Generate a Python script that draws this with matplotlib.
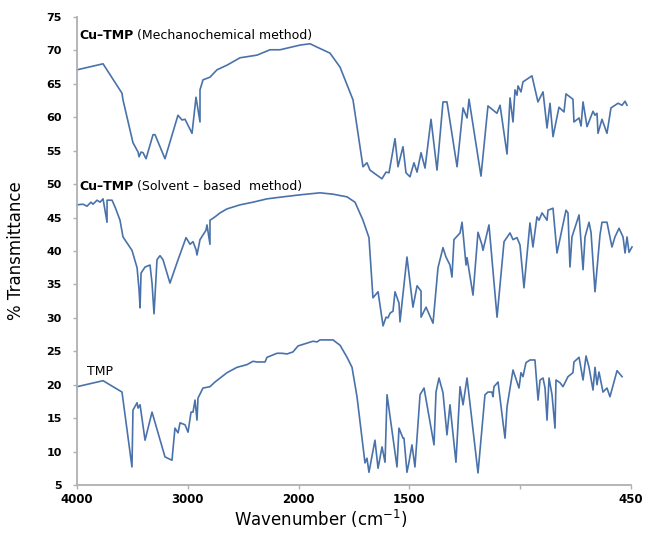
import matplotlib
matplotlib.use("Agg")
from matplotlib import pyplot as plt

# x is the position along the axis in tick steps (0 = 4000 ... 5 = 450)
tick_pos = [0, 1, 2, 3, 4, 5]
tick_labels = ["4000", "3000", "2000", "1500", "", "450"]
y_ticks = [5, 10, 15, 20, 25, 30, 35, 40, 45, 50, 55, 60, 65, 70, 75]

# Cu-TMP, mechanochemical
mech_x = [0, 0.235, 0.406, 0.415, 0.505, 0.551, 0.560, 0.578, 0.596, 0.623, 0.686, 0.704,
          0.794, 0.911, 0.948, 0.975, 1.038, 1.074, 1.110, 1.110, 1.137, 1.200, 1.263, 1.354,
          1.471, 1.625, 1.742, 1.832, 2.013, 2.103, 2.166, 2.283, 2.374, 2.491, 2.581, 2.617,
          2.644, 2.752, 2.789, 2.816, 2.870, 2.897, 2.942, 2.969, 3.005, 3.041, 3.069, 3.105,
          3.141, 3.195, 3.249, 3.303, 3.339, 3.430, 3.484, 3.520, 3.538, 3.646, 3.709, 3.790,
          3.818, 3.881, 3.908, 3.935, 3.953, 3.971, 3.980, 4.007, 4.025, 4.106, 4.160, 4.206,
          4.242, 4.269, 4.296, 4.350, 4.395, 4.413, 4.476, 4.485, 4.531, 4.549, 4.567, 4.603,
          4.657, 4.675, 4.693, 4.702, 4.738, 4.783, 4.819, 4.883, 4.919, 4.946, 4.964]
mech_y = [67.1, 68.0, 63.6, 62.6, 56.2, 54.8, 54.1, 54.8, 54.7, 53.8, 57.4, 57.4,
          53.8, 60.3, 59.6, 59.7, 57.6, 63.0, 59.3, 64.1, 65.6, 66.0, 67.1, 67.8,
          68.9, 69.3, 70.1, 70.1, 70.8, 71.0, 70.5, 69.6, 67.5, 62.6, 52.6, 53.2,
          52.1, 50.8, 51.8, 51.7, 56.8, 52.6, 55.6, 51.7, 51.1, 53.2, 51.8, 54.7,
          52.4, 59.7, 52.1, 62.3, 62.3, 52.6, 61.4, 59.9, 62.7, 51.2, 61.7, 60.6,
          61.8, 54.5, 62.9, 59.3, 64.1, 63.3, 64.7, 63.8, 65.3, 66.2, 62.3, 63.8,
          58.4, 62.1, 57.1, 61.5, 60.8, 63.5, 62.7, 59.3, 59.9, 58.7, 62.3, 58.6,
          60.9, 60.3, 60.6, 57.6, 59.7, 57.6, 61.4, 62.1, 61.8, 62.4, 61.8]

# Cu-TMP, solvent based
solv_x = [0, 0.054, 0.090, 0.126, 0.144, 0.181, 0.208, 0.235, 0.271, 0.271, 0.316, 0.343,
          0.388, 0.415, 0.496, 0.542, 0.560, 0.569, 0.578, 0.614, 0.659, 0.677, 0.695, 0.722,
          0.749, 0.776, 0.839, 0.912, 0.984, 1.020, 1.047, 1.074, 1.083, 1.110, 1.137, 1.164,
          1.173, 1.200, 1.200, 1.245, 1.291, 1.354, 1.471, 1.588, 1.715, 1.859, 2.013, 2.193,
          2.310, 2.437, 2.509, 2.581, 2.635, 2.671, 2.717, 2.762, 2.789, 2.807, 2.825, 2.852,
          2.870, 2.906, 2.915, 2.978, 3.032, 3.069, 3.105, 3.105, 3.150, 3.213, 3.258, 3.303,
          3.330, 3.366, 3.384, 3.402, 3.457, 3.475, 3.511, 3.520, 3.574, 3.619, 3.655, 3.664,
          3.718, 3.791, 3.854, 3.908, 3.935, 3.971, 3.998, 4.034, 4.088, 4.115, 4.151, 4.170,
          4.197, 4.242, 4.251, 4.296, 4.332, 4.413, 4.431, 4.449, 4.467, 4.531, 4.567, 4.585,
          4.621, 4.639, 4.675, 4.720, 4.738, 4.783, 4.828, 4.855, 4.892, 4.928, 4.946, 4.964,
          4.982, 5.009]
solv_y = [46.9, 47.0, 46.7, 47.3, 47.0, 47.6, 47.3, 47.8, 44.3, 47.6, 47.6, 46.6,
          44.6, 42.1, 40.1, 37.5, 34.2, 31.5, 36.7, 37.6, 37.9, 35.2, 30.6, 38.7,
          39.3, 38.7, 35.2, 38.7, 42.0, 41.0, 41.4, 40.2, 39.4, 41.7, 42.4, 43.1,
          43.9, 41.0, 44.6, 45.1, 45.7, 46.3, 46.9, 47.3, 47.8, 48.1, 48.4, 48.7,
          48.5, 48.1, 47.3, 44.6, 42.0, 33.0, 33.9, 28.8, 30.1, 30.0, 30.7, 31.0,
          33.9, 32.2, 29.4, 39.1, 31.6, 34.8, 34.0, 30.1, 31.6, 29.2, 37.5, 40.5,
          39.1, 37.9, 36.1, 41.7, 42.7, 44.3, 37.9, 39.0, 33.4, 42.8, 40.9, 40.1,
          43.9, 30.1, 41.4, 42.7, 41.7, 42.0, 40.9, 34.5, 44.2, 40.6, 45.1, 44.6,
          45.7, 44.6, 46.1, 46.4, 39.7, 46.1, 45.7, 37.6, 42.1, 45.4, 37.2, 42.1,
          44.3, 42.8, 33.9, 42.4, 44.3, 44.3, 40.6, 42.1, 43.4, 42.1, 39.7, 42.1,
          39.8, 40.6]

# TMP
tmp_x = [0, 0.235, 0.406, 0.496, 0.505, 0.542, 0.551, 0.569, 0.614, 0.641, 0.677, 0.794,
         0.857, 0.884, 0.912, 0.930, 0.975, 1.002, 1.029, 1.047, 1.065, 1.083, 1.092, 1.137,
         1.200, 1.245, 1.354, 1.444, 1.534, 1.588, 1.625, 1.697, 1.715, 1.805, 1.850, 1.895,
         1.949, 1.995, 2.130, 2.166, 2.193, 2.310, 2.374, 2.437, 2.482, 2.527, 2.599, 2.617,
         2.635, 2.689, 2.717, 2.753, 2.780, 2.798, 2.888, 2.906, 2.942, 2.951, 2.978, 2.996,
         3.023, 3.050, 3.096, 3.132, 3.222, 3.240, 3.267, 3.303, 3.339, 3.366, 3.420, 3.457,
         3.484, 3.520, 3.619, 3.682, 3.709, 3.745, 3.754, 3.763, 3.800, 3.845, 3.863, 3.881,
         3.935, 3.989, 4.007, 4.025, 4.052, 4.088, 4.133, 4.161, 4.179, 4.206, 4.224, 4.242,
         4.260, 4.287, 4.314, 4.323, 4.359, 4.386, 4.431, 4.476, 4.485, 4.531, 4.567, 4.594,
         4.621, 4.657, 4.675, 4.693, 4.711, 4.747, 4.783, 4.810, 4.874, 4.919]
tmp_y = [19.7, 20.6, 18.9, 7.7, 16.2, 17.3, 16.5, 17.0, 11.7, 13.5, 15.9, 9.2,
         8.7, 13.5, 12.8, 14.3, 14.0, 12.9, 15.9, 15.9, 17.7, 14.7, 18.0, 19.5,
         19.7, 20.4, 21.8, 22.6, 23.0, 23.5, 23.4, 23.4, 24.1, 24.7, 24.7, 24.6,
         24.9, 25.8, 26.5, 26.4, 26.7, 26.7, 25.9, 24.1, 22.6, 18.2, 8.3, 9.0,
         6.9, 11.7, 7.5, 10.7, 8.4, 18.5, 7.7, 13.5, 12.0, 12.0, 6.9, 8.4,
         11.0, 7.7, 18.5, 19.5, 11.0, 18.9, 21.0, 18.8, 12.5, 17.0, 8.4, 19.7,
         17.0, 21.0, 6.8, 18.5, 18.9, 18.9, 18.2, 19.7, 20.4, 14.3, 12.0, 16.7,
         22.2, 19.5, 21.8, 21.2, 23.3, 23.7, 23.7, 17.7, 20.7, 21.0, 19.5, 14.7,
         21.0, 18.5, 13.5, 20.7, 20.3, 19.7, 21.2, 21.8, 23.4, 24.1, 20.7, 24.3,
         22.6, 19.2, 22.6, 20.0, 21.9, 18.9, 19.5, 18.2, 22.1, 21.2]

line_color = "#4a72aa"
axis_color = "#b0b0b0"

fig = plt.figure(figsize=(6.51, 5.35), dpi=100)
ax = fig.add_axes([0.1183, 0.0935, 0.8510, 0.8747])

for xs, ys in [(mech_x, mech_y), (solv_x, solv_y), (tmp_x, tmp_y)]:
    ax.plot(xs, ys, color=line_color, lw=1.2, clip_on=False)

ax.set_xlim(0, 5)
ax.set_ylim(5, 75)
ax.set_xticks(tick_pos)
ax.set_xticklabels(tick_labels, fontsize=8.5, fontweight="bold")
ax.set_yticks(y_ticks)
ax.set_yticklabels([str(v) for v in y_ticks], fontsize=8, fontweight="bold")
ax.tick_params(axis="x", length=3, width=1, color=axis_color, pad=3)
ax.tick_params(axis="y", length=3, width=1, color=axis_color, pad=8)

for side in ["top", "right"]:
    ax.spines[side].set_visible(False)
for side in ["left", "bottom"]:
    ax.spines[side].set_color(axis_color)
    ax.spines[side].set_linewidth(1.3)

ax.set_ylabel("% Transmittance", fontsize=12)
ax.yaxis.set_label_coords(-0.094, 0.5)
ax.set_xlabel("Wavenumber (cm$^{-1}$)", fontsize=12)
ax.xaxis.set_label_coords(0.44, -0.05)

# labels for the three spectra
t1 = ax.text(0.025, 72.3, "Cu\u2013TMP", fontsize=9, fontweight="bold", va="center")
ax.annotate("(Mechanochemical method)", xy=(1, 0.5), xycoords=t1, xytext=(2, 0),
            textcoords="offset points", fontsize=9, va="center")
t2 = ax.text(0.025, 49.6, "Cu\u2013TMP", fontsize=9, fontweight="bold", va="center")
ax.annotate("(Solvent \u2013 based  method)", xy=(1, 0.5), xycoords=t2, xytext=(2, 0),
            textcoords="offset points", fontsize=9, va="center")
ax.text(0.09, 21.9, "TMP", fontsize=9, va="center")

fig.savefig("out.png", dpi=100)
